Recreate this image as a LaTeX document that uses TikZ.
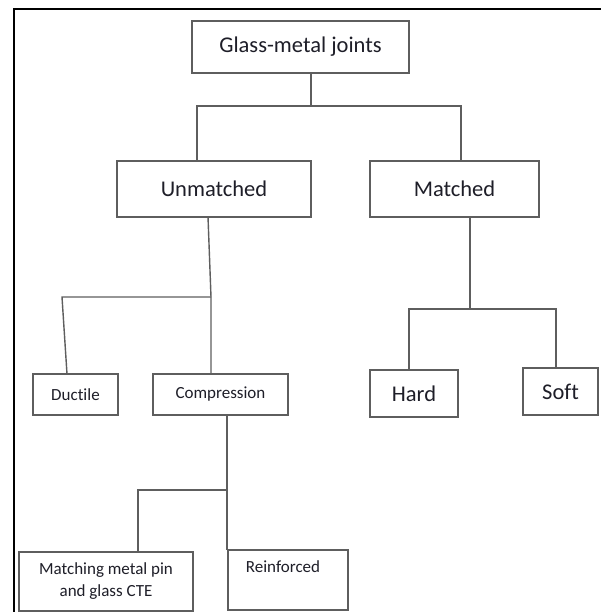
\documentclass[tikz,border=0pt]{standalone}
\usepackage{fontspec}
\setmainfont[Ligatures=CommonOff]{Carlito}
\definecolor{linegray}{HTML}{5E5E5E}
\definecolor{txt}{HTML}{1E1E28}
\begin{document}
\begin{tikzpicture}[x=1pt,y=-1pt,
  box/.style={draw=linegray,line width=1.4pt,rectangle,inner sep=0pt,outer sep=0pt,text=txt,align=center},
  big/.style={box,font=\fontsize{22.5}{27}\selectfont},
  small/.style={box,font=\fontsize{17}{22}\selectfont},
  conn/.style={draw=linegray,line width=1.4pt}]
\useasboundingbox (0,0) rectangle (600,612);
\fill[white] (0,0) rectangle (600,612);
% outer frame
\draw[line width=2.6pt,black] (14,613) -- (14,9) -- (601,9);
% nodes
\node[big,minimum width=217pt,minimum height=52pt] (glass) at (300.5,47) {Glass-metal joints};
\node[big,minimum width=194pt,minimum height=56pt] (unm) at (214,189) {Unmatched};
\node[big,minimum width=169pt,minimum height=56pt] (mat) at (454.5,189) {Matched};
\node[small,minimum width=85pt,minimum height=41pt] (duc) at (75.5,394.5) {Ductile};
\node[small,minimum width=135pt,minimum height=41pt] (comp) at (220.5,394.5) {Compression};
\node[big,minimum width=88pt,minimum height=47pt] (hard) at (414,393.5) {Hard};
\node[big,minimum width=75pt,minimum height=47pt] (soft) at (560.5,391.5) {Soft};
\node[small,minimum width=174pt,minimum height=59pt] (match) at (106,581.5) {Matching metal pin\\and glass CTE};
\node[small,minimum width=120pt,minimum height=60pt,
  label={[anchor=north,text=txt,font=\fontsize{17}{22}\selectfont,yshift=-7pt,xshift=-5pt]north:Reinforced}] (reinf) at (288,580) {};
% junctions
\coordinate (j1) at (311,106);
\coordinate (l1) at (197,106);
\coordinate (r1) at (461,106);
\coordinate (ut) at (208,217);
\coordinate (j2) at (211,297);
\coordinate (l2) at (62,297);
\coordinate (dt) at (67,374);
\coordinate (j3) at (470,309);
\coordinate (l3) at (409,309);
\coordinate (r3) at (556,309);
\coordinate (j4) at (227,490);
\coordinate (l4) at (138,490);
% connectors
\path[conn] (glass.south -| j1) -- (j1);
\path[conn] (l1 |- unm.north) -- (l1) -- (r1) -- (r1 |- mat.north);
\path[conn] (ut |- unm.south) -- (j2) -- (j2 |- comp.north);
\path[conn] (j2) -- (l2) -- (dt |- duc.north);
\path[conn] (j3 |- mat.south) -- (j3);
\path[conn] (l3 |- hard.north) -- (l3) -- (r3) -- (r3 |- soft.north);
\path[conn] (j4 |- comp.south) -- (j4 |- reinf.north);
\path[conn] (j4) -- (l4) -- (l4 |- match.north);
\end{tikzpicture}
\end{document}
